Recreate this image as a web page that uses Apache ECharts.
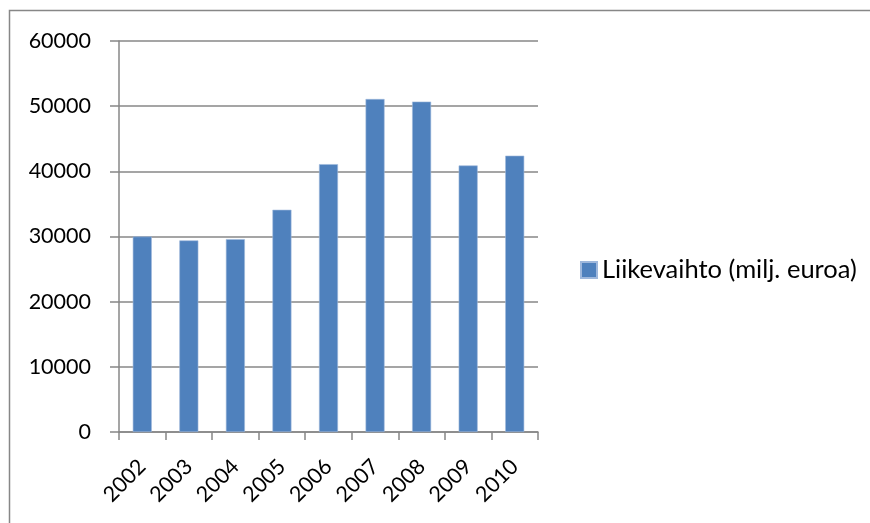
<!DOCTYPE html>
<html lang="fi">
<head>
  <meta charset="UTF-8">
  <title>Liikevaihto</title>
  <script src="https://cdnjs.cloudflare.com/ajax/libs/echarts/6.0.0/echarts.min.js"></script>
  <style>
    html, body { margin: 0; padding: 0; background: #fff; }
  </style>
</head>
<body>
<div id="chart" style="width: 870px; height: 523px;"></div>

<script>
  // vuodet ja liikevaihto (milj. euroa), luettu kuvasta
  var years = ['2002', '2003', '2004', '2005', '2006', '2007', '2008', '2009', '2010'];
  var revenue = [30000, 29400, 29600, 34100, 41100, 51100, 50700, 40900, 42400];
  var seriesName = 'Liikevaihto (milj. euroa)';

  var font = 'Lato, "Open Sans", sans-serif';
  var axisGray = '#878787';

  var chart = echarts.init(document.getElementById('chart'));

  var option = {
    animation: false,
    backgroundColor: '#fff',
    textStyle: { fontFamily: font },
    graphic: [{
      type: 'rect',
      shape: { x: 9.5, y: 10.5, width: 900, height: 600 },
      style: { fill: 'none', stroke: axisGray, lineWidth: 1.5 },
      silent: true
    }],
    legend: {
      data: [seriesName],
      left: 580,
      top: 257,
      padding: 0,
      itemWidth: 16,
      itemHeight: 16,
      icon: 'rect',
      textStyle: { fontFamily: font, fontSize: 25.5, color: '#000' }
    },
    grid: {
      left: 119,
      right: 332,
      top: 41,
      bottom: 91
    },
    xAxis: {
      type: 'category',
      data: years,
      axisLine: { lineStyle: { color: axisGray, width: 1.5 } },
      axisTick: { show: true, length: 8, lineStyle: { color: axisGray, width: 1.5 } },
      axisLabel: { rotate: 45, margin: 31, fontSize: 21.5, color: '#000', fontFamily: font }
    },
    yAxis: {
      type: 'value',
      min: 0,
      max: 60000,
      interval: 10000,
      axisLine: { show: true, lineStyle: { color: axisGray, width: 1.5 } },
      axisTick: { show: true, length: 9, lineStyle: { color: axisGray, width: 1.5 } },
      axisLabel: {
        margin: 28,
        fontSize: 21.5,
        color: '#000',
        fontFamily: font,
        formatter: function (v) { return String(v); }
      },
      splitLine: { lineStyle: { color: axisGray, width: 1.5 } }
    },
    series: [{
      name: seriesName,
      type: 'bar',
      data: revenue,
      barWidth: 19,
      itemStyle: { color: '#4f81bd', borderColor: '#9fb8dc', borderWidth: 0.6 }
    }]
  };

  chart.setOption(option);
</script>
</body>
</html>
